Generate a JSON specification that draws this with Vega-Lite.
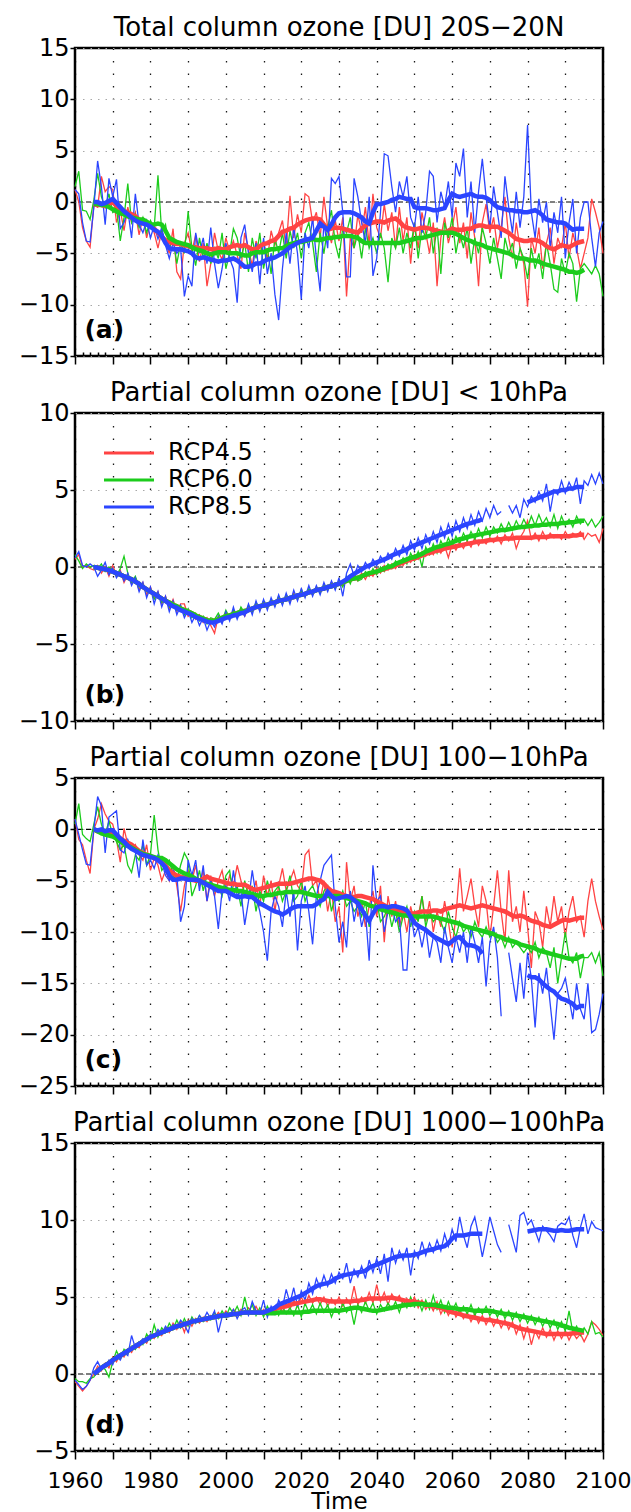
{
"$schema": "https://vega.github.io/schema/vega-lite/v6.json",
"padding": {"left": 16, "top": 13, "right": 0, "bottom": 0},
"spacing": 8,
"resolve": {"scale": {"color": "independent"}, "legend": {"color": "independent"}},
"config": {
 "view": {"stroke": "black", "strokeWidth": 2.5},
 "font": "DejaVu Sans",
 "axis": {"labelFont": "DejaVu Sans", "labelFontSize": 22, "labelColor": "black", "titleFont": "DejaVu Sans", "titleFontSize": 23, "titleFontWeight": "normal", "titleColor": "black"},
 "axisY": {"labelFontSize": 24},
 "title": {"font": "DejaVu Sans", "fontSize": 26, "fontWeight": "normal", "color": "black", "anchor": "middle", "offset": -5, "baseline": "alphabetic", "frame": "group"}
},
"datasets": {
"pa": [
{"t":1960,"r":1.2,"g":1.5,"b":1.2},{"t":1961,"r":0.0,"g":3.0,"b":0.8},{"t":1962,"r":-2.5,"g":-0.8,"b":-2.0},{"t":1963,"r":-3.8,"g":-0.9,"b":-3.8},{"t":1964,"r":-4.4,"g":-1.7,"b":-3.9},
{"t":1965,"r":-0.3,"g":0.2,"b":-0.5,"R":-0.2,"G":-0.2,"B":0.0},
{"t":1966,"r":-0.5,"g":2.8,"b":4.0,"R":-0.3,"G":-0.2,"B":0.0},
{"t":1967,"r":2.5,"g":0.5,"b":1.5,"R":-0.3,"G":-0.3,"B":-0.2},
{"t":1968,"r":1.0,"g":-0.5,"b":-2.2,"R":-0.4,"G":-0.3,"B":-0.1},
{"t":1969,"r":1.5,"g":0.8,"b":2.3,"R":-0.2,"G":-0.5,"B":0.1},
{"t":1970,"r":1.2,"g":-1.0,"b":0.5,"R":0.0,"G":-0.7,"B":0.3},
{"t":1971,"r":-2.0,"g":-0.5,"b":2.2,"R":-0.4,"G":-0.9,"B":-0.1},
{"t":1972,"r":-0.8,"g":-3.8,"b":-2.6,"R":-0.7,"G":-1.1,"B":-0.5},
{"t":1973,"r":-2.8,"g":-1.5,"b":-2.0,"R":-0.9,"G":-1.2,"B":-0.9},
{"t":1974,"r":-0.5,"g":1.8,"b":-0.8,"R":-1.0,"G":-1.4,"B":-1.2},
{"t":1975,"r":-2.0,"g":-2.0,"b":-3.5,"R":-1.2,"G":-1.5,"B":-1.5},
{"t":1976,"r":-1.0,"g":-1.2,"b":0.8,"R":-1.4,"G":-1.6,"B":-1.8},
{"t":1977,"r":-3.2,"g":-2.5,"b":-2.2,"R":-1.7,"G":-1.7,"B":-2.0},
{"t":1978,"r":-1.5,"g":-1.5,"b":-3.0,"R":-1.9,"G":-1.7,"B":-2.1},
{"t":1979,"r":-3.5,"g":-3.0,"b":-1.8,"R":-2.1,"G":-1.9,"B":-2.2},
{"t":1980,"r":-2.0,"g":-1.8,"b":-3.5,"R":-2.3,"G":-2.2,"B":-2.4},
{"t":1981,"r":-3.0,"g":-2.5,"b":-2.3,"R":-2.6,"G":-2.2,"B":-2.7},
{"t":1982,"r":-4.5,"g":2.6,"b":-3.6,"R":-3.0,"G":-2.1,"B":-2.9},
{"t":1983,"r":-2.8,"g":-3.0,"b":-2.5,"R":-3.4,"G":-2.2,"B":-3.3},
{"t":1984,"r":-4.0,"g":-2.2,"b":-4.2,"R":-3.7,"G":-2.8,"B":-4.0},
{"t":1985,"r":-5.0,"g":-4.5,"b":-5.5,"R":-3.9,"G":-3.5,"B":-4.5},
{"t":1986,"r":-2.6,"g":-3.5,"b":-4.0,"R":-4.0,"G":-3.7,"B":-4.6},
{"t":1987,"r":-6.8,"g":-6.0,"b":-5.0,"R":-4.1,"G":-3.9,"B":-4.6},
{"t":1988,"r":-7.5,"g":-4.0,"b":-4.5,"R":-4.1,"G":-4.0,"B":-4.6},
{"t":1989,"r":-4.0,"g":-5.0,"b":-9.2,"R":-4.2,"G":-4.1,"B":-4.7},
{"t":1990,"r":-3.0,"g":-0.9,"b":-7.2,"R":-4.3,"G":-4.2,"B":-4.8},
{"t":1991,"r":-4.8,"g":-4.5,"b":-8.2,"R":-4.4,"G":-4.4,"B":-5.0},
{"t":1992,"r":-3.2,"g":-6.2,"b":-3.0,"R":-4.4,"G":-4.6,"B":-5.4},
{"t":1993,"r":-5.8,"g":-3.5,"b":-5.0,"R":-4.5,"G":-4.7,"B":-5.5},
{"t":1994,"r":-4.0,"g":-5.5,"b":-3.5,"R":-4.5,"G":-4.8,"B":-5.4},
{"t":1995,"r":-8.2,"g":-4.0,"b":-6.0,"R":-4.5,"G":-5.0,"B":-5.5},
{"t":1996,"r":-6.0,"g":-6.0,"b":-2.5,"R":-4.6,"G":-5.1,"B":-5.6},
{"t":1997,"r":-3.0,"g":-4.5,"b":-6.0,"R":-4.6,"G":-5.0,"B":-5.7},
{"t":1998,"r":-4.8,"g":-5.5,"b":-8.4,"R":-4.5,"G":-4.9,"B":-5.8},
{"t":1999,"r":-5.6,"g":-3.0,"b":-6.5,"R":-4.6,"G":-4.9,"B":-5.7},
{"t":2000,"r":-3.5,"g":-6.5,"b":-4.0,"R":-4.6,"G":-4.9,"B":-5.7},
{"t":2001,"r":-4.8,"g":-5.0,"b":-5.5,"R":-4.4,"G":-5.0,"B":-5.6},
{"t":2002,"r":-3.8,"g":-2.6,"b":-6.5,"R":-4.3,"G":-5.0,"B":-5.5},
{"t":2003,"r":-5.2,"g":-3.5,"b":-9.8,"R":-4.2,"G":-5.0,"B":-5.7},
{"t":2004,"r":-6.5,"g":-5.5,"b":-3.5,"R":-4.3,"G":-5.1,"B":-6.0},
{"t":2005,"r":-3.0,"g":-4.0,"b":-2.2,"R":-4.2,"G":-5.2,"B":-6.3},
{"t":2006,"r":-4.6,"g":-6.8,"b":-5.0,"R":-4.4,"G":-5.2,"B":-6.3},
{"t":2007,"r":-6.2,"g":-3.5,"b":-6.8,"R":-4.6,"G":-5.0,"B":-6.2},
{"t":2008,"r":-3.8,"g":-5.5,"b":-4.0,"R":-4.6,"G":-4.9,"B":-6.0},
{"t":2009,"r":-5.0,"g":-3.0,"b":-8.0,"R":-4.3,"G":-4.9,"B":-6.0},
{"t":2010,"r":-3.8,"g":-6.5,"b":-3.5,"R":-4.1,"G":-4.9,"B":-5.8},
{"t":2011,"r":-5.6,"g":-4.5,"b":-7.0,"R":-4.0,"G":-4.7,"B":-5.6},
{"t":2012,"r":-2.8,"g":-7.0,"b":-5.0,"R":-3.8,"G":-4.6,"B":-5.5},
{"t":2013,"r":-4.2,"g":-3.5,"b":-9.0,"R":-3.7,"G":-4.6,"B":-5.4},
{"t":2014,"r":-3.0,"g":-5.0,"b":-11.5,"R":-3.3,"G":-4.5,"B":-5.2},
{"t":2015,"r":-1.8,"g":-3.0,"b":-6.5,"R":-2.9,"G":-4.5,"B":-5.0},
{"t":2016,"r":-4.5,"g":-5.5,"b":-3.0,"R":-2.8,"G":-4.3,"B":-4.7},
{"t":2017,"r":0.6,"g":-2.8,"b":-6.0,"R":-2.6,"G":-4.1,"B":-4.4},
{"t":2018,"r":-3.5,"g":-4.5,"b":-2.5,"R":-2.5,"G":-4.0,"B":-4.2},
{"t":2019,"r":-1.2,"g":-3.0,"b":-5.0,"R":-2.2,"G":-3.9,"B":-4.0},
{"t":2020,"r":-3.0,"g":-5.5,"b":-9.5,"R":-2.0,"G":-3.9,"B":-3.8},
{"t":2021,"r":0.8,"g":-3.0,"b":-3.0,"R":-1.8,"G":-3.8,"B":-3.7},
{"t":2022,"r":0.5,"g":-2.0,"b":-4.5,"R":-1.7,"G":-3.7,"B":-3.6},
{"t":2023,"r":-2.0,"g":-4.0,"b":-1.5,"R":-1.6,"G":-3.6,"B":-3.5},
{"t":2024,"r":-1.0,"g":-6.8,"b":-5.5,"R":-1.6,"G":-3.7,"B":-2.8},
{"t":2025,"r":-3.5,"g":-3.0,"b":-8.7,"R":-1.7,"G":-3.7,"B":-2.1},
{"t":2026,"r":0.5,"g":-5.0,"b":-2.0,"R":-2.2,"G":-3.6,"B":-2.4},
{"t":2027,"r":-2.5,"g":-2.5,"b":-4.5,"R":-2.7,"G":-3.5,"B":-2.7},
{"t":2028,"r":-4.0,"g":-0.8,"b":2.3,"R":-2.6,"G":-3.5,"B":-2.2},
{"t":2029,"r":-1.8,"g":-4.0,"b":1.8,"R":-2.5,"G":-3.4,"B":-1.5},
{"t":2030,"r":-3.8,"g":-5.5,"b":2.5,"R":-2.5,"G":-3.4,"B":-1.1},
{"t":2031,"r":-1.5,"g":-2.5,"b":-1.0,"R":-2.6,"G":-3.3,"B":-1.0},
{"t":2032,"r":-9.2,"g":-3.0,"b":-7.3,"R":-2.7,"G":-3.3,"B":-1.0},
{"t":2033,"r":-3.5,"g":-1.5,"b":-7.3,"R":-2.8,"G":-3.3,"B":-1.0},
{"t":2034,"r":-4.5,"g":-4.5,"b":2.3,"R":-2.9,"G":-3.4,"B":-1.1},
{"t":2035,"r":-1.2,"g":-3.0,"b":0.5,"R":-3.0,"G":-3.5,"B":-1.3},
{"t":2036,"r":-3.0,"g":-5.5,"b":-2.0,"R":-2.6,"G":-3.8,"B":-1.5},
{"t":2037,"r":-0.5,"g":-2.5,"b":-4.0,"R":-2.3,"G":-4.0,"B":-1.9},
{"t":2038,"r":-4.2,"g":-4.5,"b":0.5,"R":-2.1,"G":-4.0,"B":-2.1},
{"t":2039,"r":0.8,"g":-3.5,"b":-7.2,"R":-2.0,"G":-4.0,"B":-1.0},
{"t":2040,"r":-2.5,"g":-5.0,"b":-5.5,"R":-1.9,"G":-4.0,"B":-0.2},
{"t":2041,"r":-3.5,"g":-3.0,"b":-1.0,"R":-1.9,"G":-4.0,"B":-0.2},
{"t":2042,"r":-0.2,"g":-4.5,"b":4.7,"R":-2.0,"G":-4.0,"B":-0.1},
{"t":2043,"r":-2.8,"g":-7.8,"b":4.5,"R":-1.8,"G":-4.0,"B":0.0},
{"t":2044,"r":-1.0,"g":-3.5,"b":1.5,"R":-1.7,"G":-4.0,"B":0.2},
{"t":2045,"r":-4.5,"g":-4.5,"b":-1.0,"R":-1.6,"G":-4.0,"B":0.3},
{"t":2046,"r":-0.5,"g":-2.5,"b":2.0,"R":-1.9,"G":-4.0,"B":0.5},
{"t":2047,"r":-3.8,"g":-5.0,"b":0.5,"R":-2.3,"G":-3.9,"B":0.4},
{"t":2048,"r":-1.5,"g":-3.0,"b":2.5,"R":-2.5,"G":-3.8,"B":0.3},
{"t":2049,"r":-6.0,"g":-4.5,"b":-1.5,"R":-2.6,"G":-3.7,"B":0.3},
{"t":2050,"r":-2.0,"g":-2.0,"b":-2.5,"R":-2.7,"G":-3.6,"B":-0.5},
{"t":2051,"r":-4.5,"g":-5.5,"b":0.5,"R":-2.6,"G":-3.5,"B":-0.6},
{"t":2052,"r":-1.0,"g":-2.5,"b":-3.0,"R":-2.5,"G":-3.5,"B":-0.6},
{"t":2053,"r":-3.0,"g":-3.5,"b":-1.0,"R":-2.5,"G":-3.4,"B":-0.6},
{"t":2054,"r":-5.0,"g":-1.5,"b":3.0,"R":-2.6,"G":-3.3,"B":-0.7},
{"t":2055,"r":-2.0,"g":-5.0,"b":2.5,"R":-2.7,"G":-3.2,"B":-0.8},
{"t":2056,"r":-8.2,"g":-2.5,"b":-2.0,"R":-2.8,"G":-3.1,"B":-0.8},
{"t":2057,"r":-3.5,"g":-7.0,"b":1.0,"R":-2.9,"G":-3.0,"B":-0.7},
{"t":2058,"r":-1.5,"g":-2.0,"b":-0.5,"R":-3.0,"G":-3.0,"B":-0.6},
{"t":2059,"r":-4.0,"g":-3.5,"b":2.0,"R":-2.8,"G":-3.0,"B":0.2},
{"t":2060,"r":-2.5,"g":-1.5,"b":-1.5,"R":-2.6,"G":-3.0,"B":0.8},
{"t":2061,"r":-0.5,"g":-5.0,"b":3.8,"R":-2.7,"G":-3.1,"B":0.6},
{"t":2062,"r":-4.0,"g":-3.0,"b":2.5,"R":-2.7,"G":-3.3,"B":0.5},
{"t":2063,"r":-2.0,"g":-4.5,"b":5.2,"R":-2.7,"G":-3.5,"B":0.6},
{"t":2064,"r":-5.5,"g":-2.5,"b":-1.5,"R":-2.6,"G":-3.7,"B":0.7},
{"t":2065,"r":-1.0,"g":-6.0,"b":2.0,"R":-2.6,"G":-3.8,"B":0.8},
{"t":2066,"r":-3.5,"g":-3.5,"b":-3.0,"R":-2.4,"G":-4.0,"B":0.6},
{"t":2067,"r":-8.2,"g":-5.0,"b":1.0,"R":-2.3,"G":-4.1,"B":0.5},
{"t":2068,"r":-2.0,"g":-2.5,"b":4.2,"R":-2.3,"G":-4.2,"B":0.5},
{"t":2069,"r":-0.2,"g":-4.0,"b":0.5,"R":-2.4,"G":-4.4,"B":0.4},
{"t":2070,"r":-3.0,"g":-6.0,"b":-2.5,"R":-2.4,"G":-4.5,"B":0.2},
{"t":2071,"r":-1.5,"g":-3.5,"b":1.5,"R":-2.4,"G":-4.6,"B":-0.2},
{"t":2072,"r":-4.5,"g":-5.5,"b":-1.0,"R":-2.4,"G":-4.7,"B":-0.5},
{"t":2073,"r":-2.5,"g":-7.5,"b":-3.5,"R":-2.6,"G":-4.8,"B":-0.6},
{"t":2074,"r":0.5,"g":-3.5,"b":2.5,"R":-2.8,"G":-4.9,"B":-0.7},
{"t":2075,"r":-3.5,"g":-5.0,"b":-0.5,"R":-3.0,"G":-5.0,"B":-0.8},
{"t":2076,"r":-5.5,"g":-4.0,"b":-3.0,"R":-3.3,"G":-5.2,"B":-0.8},
{"t":2077,"r":-2.0,"g":-6.5,"b":1.0,"R":-3.6,"G":-5.4,"B":-0.9},
{"t":2078,"r":-4.5,"g":-4.5,"b":-2.5,"R":-3.7,"G":-5.5,"B":-0.9},
{"t":2079,"r":-6.0,"g":-5.5,"b":0.5,"R":-3.8,"G":-5.5,"B":-1.0},
{"t":2080,"r":-10.2,"g":-7.5,"b":7.5,"R":-3.8,"G":-5.6,"B":-1.0},
{"t":2081,"r":-3.5,"g":-4.5,"b":-1.0,"R":-3.7,"G":-5.7,"B":-0.9},
{"t":2082,"r":-5.0,"g":-6.5,"b":-3.5,"R":-3.7,"G":-5.7,"B":-0.8},
{"t":2083,"r":-2.5,"g":-5.0,"b":0.3,"R":-3.8,"G":-5.8,"B":-1.0},
{"t":2084,"r":-6.5,"g":-7.5,"b":-2.0,"R":-4.0,"G":-6.0,"B":-1.3},
{"t":2085,"r":-4.0,"g":-4.0,"b":0.0,"R":-4.3,"G":-6.1,"B":-1.7},
{"t":2086,"r":-2.5,"g":-6.0,"b":-4.5,"R":-4.5,"G":-6.2,"B":-1.8},
{"t":2087,"r":-6.0,"g":-8.5,"b":-1.0,"R":-4.6,"G":-6.3,"B":-1.9},
{"t":2088,"r":-3.5,"g":-8.8,"b":-3.0,"R":-4.4,"G":-6.4,"B":-2.0},
{"t":2089,"r":-4.5,"g":-5.5,"b":0.5,"R":-4.2,"G":-6.5,"B":-2.0},
{"t":2090,"r":-2.0,"g":-7.0,"b":-5.5,"R":-4.3,"G":-6.6,"B":-2.1},
{"t":2091,"r":-5.5,"g":-5.0,"b":-2.0,"R":-4.4,"G":-6.8,"B":-2.4},
{"t":2092,"r":-3.0,"g":-6.0,"b":0.3,"R":-4.2,"G":-6.8,"B":-2.7},
{"t":2093,"r":-4.5,"g":-9.7,"b":-5.0,"R":-4.0,"G":-6.9,"B":-2.6},
{"t":2094,"r":-6.5,"g":-6.5,"b":-1.5,"R":-3.9,"G":-6.8,"B":-2.6},
{"t":2095,"r":-5.0,"g":-6.0,"b":0.0,"R":-3.8,"G":-6.6,"B":-2.6},
{"t":2096,"r":-3.5,"g":-6.5,"b":0.0},{"t":2097,"r":0.3,"g":-7.0,"b":-3.5},{"t":2098,"r":-1.0,"g":-6.2,"b":-6.3},{"t":2099,"r":-2.5,"g":-7.0,"b":-3.0},{"t":2100,"r":-5.0,"g":-9.2,"b":-1.9}
],
"pb": [
{"t":1960,"r":0.5,"g":0.8,"b":0.6},{"t":1961,"r":0.8,"g":0.4,"b":1.0},{"t":1962,"r":0.0,"g":-0.1,"b":0.1},{"t":1963,"r":0.1,"g":0.2,"b":0.0},{"t":1964,"r":-0.1,"g":0.0,"b":0.2},
{"t":1965,"r":-0.2,"g":0.1,"b":0.0,"R":0.0,"G":0.0,"B":0.0},
{"t":1966,"r":0.1,"g":-0.1,"b":-0.6,"R":-0.05,"G":-0.05,"B":-0.05},
{"t":1967,"r":-0.4,"g":0.2,"b":-0.2,"R":-0.1,"G":-0.1,"B":-0.1},
{"t":1968,"r":0.0,"g":-0.3,"b":0.3,"R":-0.15,"G":-0.15,"B":-0.15},
{"t":1969,"r":-0.6,"g":0.0,"b":-0.5,"R":-0.2,"G":-0.2,"B":-0.2},
{"t":1970,"r":0.1,"g":-0.2,"b":-0.1,"R":-0.3,"G":-0.3,"B":-0.3},
{"t":1971,"r":-0.5,"g":-0.6,"b":-0.7,"R":-0.4,"G":-0.4,"B":-0.4},
{"t":1972,"r":-0.2,"g":-0.1,"b":-0.3,"R":-0.5,"G":-0.5,"B":-0.5},
{"t":1973,"r":-1.0,"g":0.7,"b":-0.9,"R":-0.6,"G":-0.6,"B":-0.6},
{"t":1974,"r":-0.5,"g":-0.4,"b":-0.4,"R":-0.7,"G":-0.7,"B":-0.7},
{"t":1975,"r":-1.1,"g":-1.0,"b":-1.2,"R":-0.8,"G":-0.8,"B":-0.8},
{"t":1976,"r":-0.7,"g":-0.6,"b":-0.7,"R":-0.95,"G":-0.95,"B":-0.95},
{"t":1977,"r":-1.5,"g":-1.3,"b":-1.6,"R":-1.1,"G":-1.1,"B":-1.1},
{"t":1978,"r":-1.0,"g":-1.2,"b":-1.0,"R":-1.3,"G":-1.3,"B":-1.3},
{"t":1979,"r":-1.8,"g":-1.6,"b":-2.0,"R":-1.45,"G":-1.45,"B":-1.45},
{"t":1980,"r":-1.3,"g":-1.4,"b":-1.3,"R":-1.6,"G":-1.6,"B":-1.6},
{"t":1981,"r":-2.0,"g":-2.1,"b":-2.4,"R":-1.75,"G":-1.75,"B":-1.75},
{"t":1982,"r":-1.6,"g":-1.7,"b":-1.6,"R":-1.9,"G":-1.9,"B":-1.9},
{"t":1983,"r":-2.4,"g":-2.3,"b":-2.6,"R":-2.05,"G":-2.05,"B":-2.05},
{"t":1984,"r":-1.9,"g":-2.0,"b":-1.9,"R":-2.2,"G":-2.2,"B":-2.2},
{"t":1985,"r":-2.7,"g":-2.6,"b":-2.9,"R":-2.3,"G":-2.3,"B":-2.4},
{"t":1986,"r":-2.1,"g":-2.3,"b":-2.2,"R":-2.45,"G":-2.45,"B":-2.55},
{"t":1987,"r":-2.9,"g":-2.8,"b":-3.1,"R":-2.55,"G":-2.55,"B":-2.65},
{"t":1988,"r":-2.4,"g":-2.5,"b":-2.5,"R":-2.7,"G":-2.7,"B":-2.8},
{"t":1989,"r":-2.4,"g":-3.1,"b":-3.3,"R":-2.8,"G":-2.8,"B":-2.9},
{"t":1990,"r":-3.2,"g":-2.7,"b":-2.8,"R":-2.9,"G":-2.9,"B":-3.0},
{"t":1991,"r":-3.0,"g":-3.3,"b":-3.6,"R":-3.0,"G":-3.0,"B":-3.1},
{"t":1992,"r":-3.4,"g":-3.0,"b":-3.1,"R":-3.15,"G":-3.15,"B":-3.25},
{"t":1993,"r":-3.1,"g":-3.5,"b":-3.8,"R":-3.25,"G":-3.25,"B":-3.35},
{"t":1994,"r":-3.6,"g":-3.2,"b":-3.3,"R":-3.35,"G":-3.35,"B":-3.45},
{"t":1995,"r":-3.3,"g":-3.7,"b":-4.1,"R":-3.45,"G":-3.45,"B":-3.55},
{"t":1996,"r":-3.8,"g":-3.3,"b":-3.5,"R":-3.5,"G":-3.5,"B":-3.6},
{"t":1997,"r":-4.3,"g":-3.4,"b":-3.9,"R":-3.5,"G":-3.5,"B":-3.6},
{"t":1998,"r":-3.2,"g":-3.0,"b":-3.2,"R":-3.4,"G":-3.4,"B":-3.5},
{"t":1999,"r":-3.6,"g":-3.5,"b":-3.7,"R":-3.3,"G":-3.3,"B":-3.4},
{"t":2000,"r":-3.0,"g":-2.8,"b":-2.9,"R":-3.2,"G":-3.2,"B":-3.3},
{"t":2001,"r":-3.4,"g":-3.3,"b":-3.5,"R":-3.15,"G":-3.15,"B":-3.25},
{"t":2002,"r":-2.9,"g":-2.8,"b":-2.6,"R":-3.05,"G":-3.05,"B":-3.15},
{"t":2003,"r":-3.2,"g":-3.3,"b":-3.4,"R":-3.0,"G":-3.0,"B":-3.1},
{"t":2004,"r":-2.7,"g":-2.6,"b":-2.8,"R":-2.9,"G":-2.9,"B":-3.0},
{"t":2005,"r":-3.2,"g":-3.0,"b":-3.2,"R":-2.85,"G":-2.85,"B":-2.95},
{"t":2006,"r":-2.6,"g":-2.5,"b":-2.4,"R":-2.8,"G":-2.8,"B":-2.8},
{"t":2007,"r":-2.9,"g":-2.9,"b":-3.1,"R":-2.7,"G":-2.7,"B":-2.7},
{"t":2008,"r":-2.4,"g":-2.3,"b":-2.2,"R":-2.6,"G":-2.6,"B":-2.6},
{"t":2009,"r":-2.8,"g":-2.7,"b":-2.9,"R":-2.55,"G":-2.55,"B":-2.55},
{"t":2010,"r":-2.3,"g":-2.2,"b":-2.1,"R":-2.5,"G":-2.5,"B":-2.5},
{"t":2011,"r":-2.6,"g":-2.6,"b":-2.8,"R":-2.45,"G":-2.45,"B":-2.45},
{"t":2012,"r":-2.2,"g":-2.1,"b":-2.0,"R":-2.35,"G":-2.35,"B":-2.35},
{"t":2013,"r":-2.5,"g":-2.5,"b":-2.6,"R":-2.3,"G":-2.3,"B":-2.3},
{"t":2014,"r":-2.0,"g":-1.9,"b":-1.8,"R":-2.2,"G":-2.2,"B":-2.2},
{"t":2015,"r":-2.3,"g":-2.4,"b":-2.5,"R":-2.15,"G":-2.15,"B":-2.15},
{"t":2016,"r":-1.9,"g":-1.8,"b":-1.7,"R":-2.1,"G":-2.1,"B":-2.1},
{"t":2017,"r":-2.3,"g":-2.2,"b":-2.4,"R":-2.0,"G":-2.0,"B":-2.0},
{"t":2018,"r":-1.7,"g":-1.8,"b":-1.5,"R":-1.95,"G":-1.95,"B":-1.95},
{"t":2019,"r":-2.0,"g":-2.1,"b":-2.2,"R":-1.85,"G":-1.85,"B":-1.85},
{"t":2020,"r":-1.6,"g":-1.5,"b":-1.4,"R":-1.8,"G":-1.8,"B":-1.8},
{"t":2021,"r":-1.9,"g":-1.9,"b":-2.0,"R":-1.75,"G":-1.75,"B":-1.75},
{"t":2022,"r":-1.5,"g":-1.4,"b":-1.2,"R":-1.65,"G":-1.65,"B":-1.65},
{"t":2023,"r":-1.8,"g":-1.8,"b":-1.9,"R":-1.6,"G":-1.6,"B":-1.6},
{"t":2024,"r":-1.3,"g":-1.3,"b":-1.2,"R":-1.5,"G":-1.5,"B":-1.5},
{"t":2025,"r":-1.6,"g":-1.7,"b":-1.8,"R":-1.45,"G":-1.45,"B":-1.45},
{"t":2026,"r":-1.2,"g":-1.2,"b":-1.0,"R":-1.4,"G":-1.4,"B":-1.4},
{"t":2027,"r":-1.4,"g":-1.5,"b":-1.6,"R":-1.3,"G":-1.3,"B":-1.3},
{"t":2028,"r":-1.0,"g":-1.1,"b":-0.9,"R":-1.25,"G":-1.25,"B":-1.25},
{"t":2029,"r":-1.3,"g":-1.4,"b":-1.5,"R":-1.15,"G":-1.15,"B":-1.15},
{"t":2030,"r":-0.9,"g":-0.9,"b":-0.7,"R":-1.1,"G":-1.1,"B":-1.1},
{"t":2031,"r":-1.2,"g":-1.3,"b":-1.9,"R":-1.0,"G":-1.0,"B":-0.95},
{"t":2032,"r":-0.7,"g":-0.6,"b":-0.4,"R":-0.9,"G":-0.9,"B":-0.8},
{"t":2033,"r":-1.0,"g":-1.1,"b":0.2,"R":-0.8,"G":-0.8,"B":-0.6},
{"t":2034,"r":-0.5,"g":-0.4,"b":-0.6,"R":-0.75,"G":-0.75,"B":-0.45},
{"t":2035,"r":-0.9,"g":-0.9,"b":0.1,"R":-0.7,"G":-0.7,"B":-0.3},
{"t":2036,"r":-0.4,"g":-0.8,"b":-0.3,"R":-0.6,"G":-0.6,"B":-0.15},
{"t":2037,"r":-0.8,"g":-0.3,"b":0.3,"R":-0.5,"G":-0.5,"B":0.0},
{"t":2038,"r":-0.3,"g":-0.6,"b":-0.1,"R":-0.45,"G":-0.4,"B":0.1},
{"t":2039,"r":-0.6,"g":-0.1,"b":0.5,"R":-0.4,"G":-0.35,"B":0.2},
{"t":2040,"r":-0.1,"g":-0.5,"b":0.1,"R":-0.3,"G":-0.3,"B":0.3},
{"t":2041,"r":-0.4,"g":0.0,"b":0.7,"R":-0.2,"G":-0.2,"B":0.4},
{"t":2042,"r":0.1,"g":-0.3,"b":0.3,"R":-0.15,"G":-0.1,"B":0.5},
{"t":2043,"r":-0.2,"g":0.2,"b":0.9,"R":-0.05,"G":0.0,"B":0.6},
{"t":2044,"r":0.2,"g":-0.1,"b":0.5,"R":0.0,"G":0.05,"B":0.75},
{"t":2045,"r":-0.1,"g":0.4,"b":1.2,"R":0.1,"G":0.2,"B":0.85},
{"t":2046,"r":0.4,"g":0.1,"b":0.7,"R":0.2,"G":0.3,"B":0.95},
{"t":2047,"r":0.1,"g":0.6,"b":1.4,"R":0.3,"G":0.4,"B":1.05},
{"t":2048,"r":0.6,"g":0.2,"b":0.8,"R":0.4,"G":0.5,"B":1.15},
{"t":2049,"r":0.3,"g":0.9,"b":1.7,"R":0.5,"G":0.6,"B":1.3},
{"t":2050,"r":0.8,"g":0.4,"b":1.1,"R":0.55,"G":0.65,"B":1.4},
{"t":2051,"r":0.5,"g":1.0,"b":1.9,"R":0.65,"G":0.75,"B":1.5},
{"t":2052,"r":1.0,"g":0.0,"b":1.2,"R":0.75,"G":0.85,"B":1.6},
{"t":2053,"r":0.7,"g":1.3,"b":2.1,"R":0.85,"G":1.0,"B":1.7},
{"t":2054,"r":1.2,"g":0.8,"b":1.5,"R":0.9,"G":1.1,"B":1.8},
{"t":2055,"r":0.8,"g":1.5,"b":2.3,"R":1.0,"G":1.2,"B":1.9},
{"t":2056,"r":1.3,"g":0.9,"b":1.6,"R":1.05,"G":1.3,"B":2.0},
{"t":2057,"r":0.9,"g":1.7,"b":2.6,"R":1.1,"G":1.35,"B":2.1},
{"t":2058,"r":1.4,"g":1.2,"b":1.9,"R":1.2,"G":1.45,"B":2.2},
{"t":2059,"r":0.6,"g":1.9,"b":2.8,"R":1.25,"G":1.5,"B":2.3},
{"t":2060,"r":1.5,"g":1.3,"b":2.0,"R":1.3,"G":1.6,"B":2.4},
{"t":2061,"r":1.1,"g":2.0,"b":3.0,"R":1.35,"G":1.7,"B":2.5},
{"t":2062,"r":1.6,"g":1.5,"b":2.3,"R":1.4,"G":1.8,"B":2.6},
{"t":2063,"r":1.2,"g":2.2,"b":3.2,"R":1.45,"G":1.85,"B":2.7},
{"t":2064,"r":1.7,"g":1.7,"b":2.5,"R":1.5,"G":1.95,"B":2.8},
{"t":2065,"r":1.3,"g":2.3,"b":3.4,"R":1.55,"G":2.0,"B":2.85},
{"t":2066,"r":1.9,"g":1.8,"b":2.7,"R":1.6,"G":2.05,"B":2.95},
{"t":2067,"r":1.4,"g":2.5,"b":3.6,"R":1.65,"G":2.1,"B":3.0},
{"t":2068,"r":1.8,"g":1.9,"b":3.0,"R":1.65,"G":2.15,"B":3.1},
{"t":2069,"r":1.5,"g":2.6,"b":3.8,"R":1.7,"G":2.2,"B":null},
{"t":2070,"r":1.9,"g":2.0,"b":3.2,"R":1.75,"G":2.25,"B":null},
{"t":2071,"r":1.6,"g":2.6,"b":4.0,"R":1.75,"G":2.3,"B":null},
{"t":2072,"r":2.0,"g":2.2,"b":3.4,"R":1.8,"G":2.35,"B":null},
{"t":2073,"r":1.5,"g":2.8,"b":3.6,"R":1.8,"G":2.4,"B":null},
{"t":2074,"r":2.1,"g":2.3,"b":null,"R":1.85,"G":2.4,"B":null},
{"t":2075,"r":1.7,"g":2.9,"b":4.0,"R":1.85,"G":2.45,"B":null},
{"t":2076,"r":2.2,"g":2.4,"b":3.5,"R":1.85,"G":2.5,"B":null},
{"t":2077,"r":1.2,"g":3.0,"b":4.0,"R":1.9,"G":2.55,"B":null},
{"t":2078,"r":1.9,"g":2.5,"b":3.2,"R":1.9,"G":2.6,"B":null},
{"t":2079,"r":2.3,"g":3.1,"b":4.4,"R":1.9,"G":2.6,"B":null},
{"t":2080,"r":3.0,"g":2.6,"b":3.9,"R":1.9,"G":2.65,"B":4.2},
{"t":2081,"r":1.8,"g":3.3,"b":4.6,"R":1.9,"G":2.65,"B":4.3},
{"t":2082,"r":2.2,"g":2.7,"b":4.2,"R":1.95,"G":2.7,"B":4.4},
{"t":2083,"r":1.7,"g":3.4,"b":4.9,"R":1.95,"G":2.7,"B":4.5},
{"t":2084,"r":2.3,"g":2.8,"b":4.3,"R":1.95,"G":2.75,"B":4.6},
{"t":2085,"r":1.8,"g":3.2,"b":5.4,"R":1.95,"G":2.75,"B":4.7},
{"t":2086,"r":2.2,"g":2.6,"b":3.6,"R":2.0,"G":2.8,"B":4.8},
{"t":2087,"r":1.9,"g":3.4,"b":5.0,"R":2.0,"G":2.8,"B":4.9},
{"t":2088,"r":2.1,"g":2.5,"b":4.7,"R":2.0,"G":2.8,"B":4.9},
{"t":2089,"r":1.8,"g":3.3,"b":5.6,"R":2.0,"G":2.85,"B":5.0},
{"t":2090,"r":2.3,"g":2.7,"b":4.8,"R":2.0,"G":2.85,"B":5.0},
{"t":2091,"r":1.9,"g":3.1,"b":5.5,"R":2.0,"G":2.9,"B":5.1},
{"t":2092,"r":2.2,"g":2.6,"b":5.0,"R":2.05,"G":2.9,"B":5.1},
{"t":2093,"r":2.0,"g":3.3,"b":5.8,"R":2.05,"G":2.95,"B":5.2},
{"t":2094,"r":2.3,"g":2.8,"b":4.1,"R":2.1,"G":3.0,"B":5.2},
{"t":2095,"r":1.8,"g":3.1,"b":5.6,"R":2.1,"G":3.0,"B":5.2},
{"t":2096,"r":2.2,"g":2.7,"b":5.3},{"t":2097,"r":2.0,"g":3.1,"b":6.0},{"t":2098,"r":2.1,"g":2.6,"b":5.4},{"t":2099,"r":1.6,"g":2.9,"b":6.1},{"t":2100,"r":2.5,"g":3.3,"b":5.4}
],
"pc": [
{"t":1960,"r":1.0,"g":0.5,"b":1.0},{"t":1961,"r":-1.0,"g":2.5,"b":-0.5},{"t":1962,"r":-1.5,"g":-0.5,"b":-2.0},{"t":1963,"r":-3.0,"g":-0.9,"b":-3.4},{"t":1964,"r":-4.3,"g":-1.2,"b":-3.5},
{"t":1965,"r":0.0,"g":0.5,"b":0.0,"R":0.0,"G":0.0,"B":0.0},
{"t":1966,"r":1.0,"g":2.2,"b":3.2,"R":-0.2,"G":-0.2,"B":-0.1},
{"t":1967,"r":2.5,"g":0.5,"b":2.3,"R":-0.3,"G":-0.4,"B":0.0},
{"t":1968,"r":1.5,"g":-0.5,"b":-2.3,"R":-0.4,"G":-0.5,"B":-0.2},
{"t":1969,"r":0.8,"g":0.8,"b":1.2,"R":-0.3,"G":-0.6,"B":-0.1},
{"t":1970,"r":0.5,"g":-0.5,"b":1.5,"R":-0.3,"G":-0.7,"B":-0.1},
{"t":1971,"r":-1.0,"g":-1.2,"b":1.8,"R":-0.6,"G":-0.9,"B":-0.5},
{"t":1972,"r":-3.2,"g":-2.0,"b":-2.0,"R":-0.9,"G":-1.2,"B":-0.9},
{"t":1973,"r":0.1,"g":-1.5,"b":-2.3,"R":-1.1,"G":-1.4,"B":-1.2},
{"t":1974,"r":-1.5,"g":-3.5,"b":-1.0,"R":-1.3,"G":-1.6,"B":-1.6},
{"t":1975,"r":-2.0,"g":-4.2,"b":-2.0,"R":-1.5,"G":-1.8,"B":-1.9},
{"t":1976,"r":-1.5,"g":-2.5,"b":-2.2,"R":-1.8,"G":-2.0,"B":-2.1},
{"t":1977,"r":-2.5,"g":-3.0,"b":-4.7,"R":-2.1,"G":-2.2,"B":-2.3},
{"t":1978,"r":-3.0,"g":-1.5,"b":-1.0,"R":-2.3,"G":-2.4,"B":-2.5},
{"t":1979,"r":-1.5,"g":-3.5,"b":-3.5,"R":-2.5,"G":-2.5,"B":-2.6},
{"t":1980,"r":-4.0,"g":-2.5,"b":-3.0,"R":-2.6,"G":-2.6,"B":-2.7},
{"t":1981,"r":-2.8,"g":1.4,"b":-3.8,"R":-2.8,"G":-2.7,"B":-2.8},
{"t":1982,"r":-3.5,"g":-2.0,"b":-2.5,"R":-2.9,"G":-2.8,"B":-3.0},
{"t":1983,"r":-5.0,"g":-4.0,"b":-3.2,"R":-3.0,"G":-2.8,"B":-3.3},
{"t":1984,"r":-4.0,"g":-3.5,"b":-4.5,"R":-3.5,"G":-3.0,"B":-3.7},
{"t":1985,"r":-5.0,"g":-3.0,"b":-5.0,"R":-4.0,"G":-3.3,"B":-4.5},
{"t":1986,"r":-3.5,"g":-4.5,"b":-4.0,"R":-4.3,"G":-3.6,"B":-4.9},
{"t":1987,"r":-5.5,"g":-5.0,"b":-4.5,"R":-4.5,"G":-3.9,"B":-4.9},
{"t":1988,"r":-8.0,"g":-3.5,"b":-9.0,"R":-4.6,"G":-4.1,"B":-4.8},
{"t":1989,"r":-5.5,"g":-2.3,"b":-7.5,"R":-4.7,"G":-4.3,"B":-4.8},
{"t":1990,"r":-4.0,"g":-3.0,"b":-3.0,"R":-4.8,"G":-4.4,"B":-4.9},
{"t":1991,"r":-5.0,"g":-6.5,"b":-4.5,"R":-4.9,"G":-4.6,"B":-4.9},
{"t":1992,"r":-3.5,"g":-5.5,"b":-3.0,"R":-5.0,"G":-4.8,"B":-4.9},
{"t":1993,"r":-5.5,"g":-4.0,"b":-6.0,"R":-5.0,"G":-5.0,"B":-5.0},
{"t":1994,"r":-4.0,"g":-6.0,"b":-3.5,"R":-4.8,"G":-5.2,"B":-5.2},
{"t":1995,"r":-7.0,"g":-4.5,"b":-7.0,"R":-4.6,"G":-5.3,"B":-5.4},
{"t":1996,"r":-4.5,"g":-5.0,"b":-5.0,"R":-4.8,"G":-5.4,"B":-5.6},
{"t":1997,"r":-6.5,"g":-6.0,"b":-6.5,"R":-4.9,"G":-5.5,"B":-5.8},
{"t":1998,"r":-5.0,"g":-5.5,"b":-9.7,"R":-5.0,"G":-5.6,"B":-6.0},
{"t":1999,"r":-4.0,"g":-6.5,"b":-6.0,"R":-5.1,"G":-5.7,"B":-6.0},
{"t":2000,"r":-6.0,"g":-4.5,"b":-5.5,"R":-5.2,"G":-5.8,"B":-6.0},
{"t":2001,"r":-4.5,"g":-4.0,"b":-7.0,"R":-5.3,"G":-5.9,"B":-6.2},
{"t":2002,"r":-5.5,"g":-6.5,"b":-4.0,"R":-5.3,"G":-5.9,"B":-6.4},
{"t":2003,"r":-3.5,"g":-5.5,"b":-6.5,"R":-5.4,"G":-6.0,"B":-6.6},
{"t":2004,"r":-5.0,"g":-7.5,"b":-6.0,"R":-5.4,"G":-6.0,"B":-6.6},
{"t":2005,"r":-6.5,"g":-5.0,"b":-9.3,"R":-5.4,"G":-6.1,"B":-6.5},
{"t":2006,"r":-5.5,"g":-6.5,"b":-7.0,"R":-5.6,"G":-6.2,"B":-6.6},
{"t":2007,"r":-6.5,"g":-5.5,"b":-4.0,"R":-5.8,"G":-6.3,"B":-6.6},
{"t":2008,"r":-5.0,"g":-8.0,"b":-6.5,"R":-5.9,"G":-6.4,"B":-6.9},
{"t":2009,"r":-7.5,"g":-6.0,"b":-8.0,"R":-5.8,"G":-6.5,"B":-7.2},
{"t":2010,"r":-4.5,"g":-7.0,"b":-10.0,"R":-5.7,"G":-6.5,"B":-7.4},
{"t":2011,"r":-6.5,"g":-5.0,"b":-12.8,"R":-5.6,"G":-6.4,"B":-7.6},
{"t":2012,"r":-5.0,"g":-6.5,"b":-8.0,"R":-5.5,"G":-6.4,"B":-7.8},
{"t":2013,"r":-8.0,"g":-6.0,"b":-6.5,"R":-5.4,"G":-6.3,"B":-8.0},
{"t":2014,"r":-5.5,"g":-5.5,"b":-7.5,"R":-5.3,"G":-6.2,"B":-8.1},
{"t":2015,"r":-3.8,"g":-7.0,"b":-9.5,"R":-5.3,"G":-6.2,"B":-8.3},
{"t":2016,"r":-6.0,"g":-6.0,"b":-6.0,"R":-5.3,"G":-6.1,"B":-8.1},
{"t":2017,"r":-5.0,"g":-4.5,"b":-8.5,"R":-5.3,"G":-6.1,"B":-7.8},
{"t":2018,"r":-4.0,"g":-7.0,"b":-6.0,"R":-5.2,"G":-6.1,"B":-7.6},
{"t":2019,"r":-5.5,"g":-6.5,"b":-11.8,"R":-5.1,"G":-6.1,"B":-7.5},
{"t":2020,"r":-6.0,"g":-5.0,"b":-7.0,"R":-5.0,"G":-6.1,"B":-7.5},
{"t":2021,"r":-2.5,"g":-7.0,"b":-5.5,"R":-4.9,"G":-6.2,"B":-7.5},
{"t":2022,"r":-2.0,"g":-6.0,"b":-8.0,"R":-4.8,"G":-6.3,"B":-7.5},
{"t":2023,"r":-5.5,"g":-5.5,"b":-11.2,"R":-4.8,"G":-6.4,"B":-7.5},
{"t":2024,"r":-5.0,"g":-6.5,"b":-6.5,"R":-4.9,"G":-6.5,"B":-7.3},
{"t":2025,"r":-7.0,"g":-7.5,"b":-5.0,"R":-5.0,"G":-6.5,"B":-7.0},
{"t":2026,"r":-5.0,"g":-6.0,"b":-3.5,"R":-5.3,"G":-6.5,"B":-6.8},
{"t":2027,"r":-8.0,"g":-5.5,"b":-3.0,"R":-5.7,"G":-6.5,"B":-6.1},
{"t":2028,"r":-6.0,"g":-8.0,"b":-2.5,"R":-6.0,"G":-6.5,"B":-6.5},
{"t":2029,"r":-9.0,"g":-6.5,"b":-7.5,"R":-6.1,"G":-6.5,"B":-6.8},
{"t":2030,"r":-7.5,"g":-7.0,"b":-11.0,"R":-6.2,"G":-6.5,"B":-6.7},
{"t":2031,"r":-12.0,"g":-6.0,"b":-9.0,"R":-6.4,"G":-6.6,"B":-6.6},
{"t":2032,"r":-3.2,"g":-7.5,"b":-11.5,"R":-6.5,"G":-6.7,"B":-6.5},
{"t":2033,"r":-7.0,"g":-7.0,"b":-6.0,"R":-6.6,"G":-6.8,"B":-6.6},
{"t":2034,"r":-5.5,"g":-8.0,"b":-9.0,"R":-6.6,"G":-6.9,"B":-6.9},
{"t":2035,"r":-8.5,"g":-7.5,"b":-7.0,"R":-6.5,"G":-7.0,"B":-7.2},
{"t":2036,"r":-7.0,"g":-8.5,"b":-9.5,"R":-6.5,"G":-7.1,"B":-7.8},
{"t":2037,"r":-9.5,"g":-7.0,"b":-8.0,"R":-6.6,"G":-7.2,"B":-8.4},
{"t":2038,"r":-7.5,"g":-9.5,"b":-12.8,"R":-6.7,"G":-7.4,"B":-8.9},
{"t":2039,"r":-6.0,"g":-8.0,"b":-3.5,"R":-6.8,"G":-7.5,"B":-8.2},
{"t":2040,"r":-8.5,"g":-7.0,"b":-7.0,"R":-7.0,"G":-7.6,"B":-7.6},
{"t":2041,"r":-5.5,"g":-9.0,"b":-6.5,"R":-7.2,"G":-7.8,"B":-7.5},
{"t":2042,"r":-11.0,"g":-8.5,"b":-10.0,"R":-7.4,"G":-7.9,"B":-7.5},
{"t":2043,"r":-6.5,"g":-7.5,"b":-8.0,"R":-7.6,"G":-8.0,"B":-7.6},
{"t":2044,"r":-8.5,"g":-9.5,"b":-7.5,"R":-7.7,"G":-8.1,"B":-7.5},
{"t":2045,"r":-7.0,"g":-8.0,"b":-9.0,"R":-7.8,"G":-8.2,"B":-7.5},
{"t":2046,"r":-9.5,"g":-10.0,"b":-8.5,"R":-7.9,"G":-8.3,"B":-7.6},
{"t":2047,"r":-8.0,"g":-8.5,"b":-13.7,"R":-8.0,"G":-8.4,"B":-7.7},
{"t":2048,"r":-10.0,"g":-7.5,"b":-13.7,"R":-8.1,"G":-8.4,"B":-7.9},
{"t":2049,"r":-7.5,"g":-9.5,"b":-8.0,"R":-8.2,"G":-8.5,"B":-8.5},
{"t":2050,"r":-9.0,"g":-8.0,"b":-10.5,"R":-8.2,"G":-8.5,"B":-9.1},
{"t":2051,"r":-8.5,"g":-9.0,"b":-9.5,"R":-8.1,"G":-8.5,"B":-9.4},
{"t":2052,"r":-6.5,"g":-6.5,"b":-11.5,"R":-8.0,"G":-8.5,"B":-9.6},
{"t":2053,"r":-9.0,"g":-9.5,"b":-9.5,"R":-8.0,"G":-8.5,"B":-9.8},
{"t":2054,"r":-7.0,"g":-8.0,"b":-12.5,"R":-8.0,"G":-8.5,"B":-10.1},
{"t":2055,"r":-10.0,"g":-9.0,"b":-10.5,"R":-7.9,"G":-8.5,"B":-10.4},
{"t":2056,"r":-8.0,"g":-8.5,"b":-11.0,"R":-7.9,"G":-8.6,"B":-10.6},
{"t":2057,"r":-9.5,"g":-9.0,"b":-13.0,"R":-8.0,"G":-8.7,"B":-10.8},
{"t":2058,"r":-7.0,"g":-10.0,"b":-9.5,"R":-7.8,"G":-8.8,"B":-11.0},
{"t":2059,"r":-9.0,"g":-8.0,"b":-11.5,"R":-7.7,"G":-8.9,"B":-11.2},
{"t":2060,"r":-11.5,"g":-9.5,"b":-13.0,"R":-7.6,"G":-9.0,"B":-10.9},
{"t":2061,"r":-8.5,"g":-10.5,"b":-10.5,"R":-7.5,"G":-9.1,"B":-10.6},
{"t":2062,"r":-3.8,"g":-9.0,"b":-12.0,"R":-7.4,"G":-9.2,"B":-10.5},
{"t":2063,"r":-8.0,"g":-10.0,"b":-10.0,"R":-7.5,"G":-9.4,"B":-10.9},
{"t":2064,"r":-6.5,"g":-9.5,"b":-13.0,"R":-7.6,"G":-9.5,"B":-11.3},
{"t":2065,"r":-4.8,"g":-10.5,"b":-9.5,"R":-7.7,"G":-9.6,"B":-11.3},
{"t":2066,"r":-7.5,"g":-9.0,"b":-11.0,"R":-7.6,"G":-9.7,"B":-11.4},
{"t":2067,"r":-9.5,"g":-10.0,"b":-13.0,"R":-7.5,"G":-9.8,"B":-11.6},
{"t":2068,"r":-5.5,"g":-10.5,"b":-10.5,"R":-7.4,"G":-9.9,"B":-12.1},
{"t":2069,"r":-7.0,"g":-9.5,"b":-15.3,"R":-7.5,"G":-10.0,"B":null},
{"t":2070,"r":-10.5,"g":-10.5,"b":-11.0,"R":-7.6,"G":-10.1,"B":null},
{"t":2071,"r":-7.5,"g":-10.0,"b":-9.5,"R":-7.7,"G":-10.2,"B":null},
{"t":2072,"r":-4.0,"g":-11.0,"b":-12.5,"R":-7.8,"G":-10.4,"B":null},
{"t":2073,"r":-8.0,"g":-10.5,"b":-18.2,"R":-7.9,"G":-10.5,"B":null},
{"t":2074,"r":-11.0,"g":-11.5,"b":null,"R":-8.0,"G":-10.7,"B":null},
{"t":2075,"r":-4.0,"g":-10.5,"b":-12.0,"R":-8.2,"G":-10.8,"B":null},
{"t":2076,"r":-9.0,"g":-11.5,"b":-14.5,"R":-8.4,"G":-10.9,"B":null},
{"t":2077,"r":-7.5,"g":-11.0,"b":-16.8,"R":-8.5,"G":-11.0,"B":null},
{"t":2078,"r":-10.0,"g":-11.5,"b":-13.0,"R":-8.4,"G":-11.2,"B":null},
{"t":2079,"r":-6.0,"g":-12.0,"b":-16.5,"R":-8.5,"G":-11.3,"B":null},
{"t":2080,"r":-9.5,"g":-11.5,"b":-12.0,"R":-8.7,"G":-11.4,"B":-14.2},
{"t":2081,"r":-13.5,"g":-12.0,"b":-14.5,"R":-8.9,"G":-11.5,"B":-14.4},
{"t":2082,"r":-8.0,"g":-11.0,"b":-19.3,"R":-9.0,"G":-11.6,"B":-14.4},
{"t":2083,"r":-9.0,"g":-12.5,"b":-14.0,"R":-9.1,"G":-11.8,"B":-14.6},
{"t":2084,"r":-11.5,"g":-11.5,"b":-16.0,"R":-9.3,"G":-11.9,"B":-15.0},
{"t":2085,"r":-7.5,"g":-12.0,"b":-13.5,"R":-9.4,"G":-12.0,"B":-15.3},
{"t":2086,"r":-9.5,"g":-13.5,"b":-17.0,"R":-9.5,"G":-12.1,"B":-15.6},
{"t":2087,"r":-6.5,"g":-11.5,"b":-20.5,"R":-9.3,"G":-12.2,"B":-15.8},
{"t":2088,"r":-9.0,"g":-15.0,"b":-16.0,"R":-9.1,"G":-12.3,"B":-16.2},
{"t":2089,"r":-7.5,"g":-12.5,"b":-15.5,"R":-8.9,"G":-12.4,"B":-16.5},
{"t":2090,"r":-10.5,"g":-10.0,"b":-14.5,"R":-8.8,"G":-12.5,"B":-16.6},
{"t":2091,"r":-8.0,"g":-12.5,"b":-16.5,"R":-8.9,"G":-12.6,"B":-16.8},
{"t":2092,"r":-6.5,"g":-13.0,"b":-18.5,"R":-8.8,"G":-12.6,"B":-17.0},
{"t":2093,"r":-9.0,"g":-12.0,"b":-15.0,"R":-8.7,"G":-12.6,"B":-17.4},
{"t":2094,"r":-8.5,"g":-14.5,"b":-17.5,"R":-8.6,"G":-12.4,"B":-17.2},
{"t":2095,"r":-10.5,"g":-12.5,"b":-18.5,"R":-8.6,"G":-12.3,"B":-17.2},
{"t":2096,"r":-7.0,"g":-12.5,"b":-15.0},{"t":2097,"r":-4.8,"g":-12.0,"b":-19.8},{"t":2098,"r":-7.0,"g":-13.0,"b":-19.5},{"t":2099,"r":-8.5,"g":-12.0,"b":-18.0},{"t":2100,"r":-9.8,"g":-14.3,"b":-16.0}
],
"pd": [
{"t":1960,"r":-0.5,"g":-0.3,"b":-0.4},{"t":1961,"r":-0.8,"g":-0.5,"b":-0.7},{"t":1962,"r":-1.1,"g":-0.5,"b":-1.0},{"t":1963,"r":-0.8,"g":-0.6,"b":-0.8},{"t":1964,"r":-0.4,"g":-0.3,"b":-0.4},
{"t":1965,"r":0.0,"g":-0.2,"b":0.4,"R":0.0,"G":0.0,"B":0.0},
{"t":1966,"r":0.5,"g":0.2,"b":0.8,"R":0.2,"G":0.2,"B":0.2},
{"t":1967,"r":0.2,"g":0.5,"b":0.3,"R":0.4,"G":0.4,"B":0.4},
{"t":1968,"r":0.7,"g":0.3,"b":0.5,"R":0.55,"G":0.55,"B":0.55},
{"t":1969,"r":0.4,"g":-0.2,"b":0.9,"R":0.7,"G":0.7,"B":0.7},
{"t":1970,"r":1.1,"g":0.8,"b":0.6,"R":0.9,"G":0.9,"B":0.9},
{"t":1971,"r":0.8,"g":1.5,"b":1.2,"R":1.05,"G":1.05,"B":1.05},
{"t":1972,"r":1.3,"g":1.0,"b":0.9,"R":1.2,"G":1.2,"B":1.2},
{"t":1973,"r":1.1,"g":1.6,"b":1.4,"R":1.35,"G":1.35,"B":1.35},
{"t":1974,"r":1.6,"g":1.3,"b":1.2,"R":1.5,"G":1.5,"B":1.5},
{"t":1975,"r":1.4,"g":1.8,"b":2.5,"R":1.65,"G":1.65,"B":1.65},
{"t":1976,"r":1.9,"g":1.6,"b":1.7,"R":1.8,"G":1.8,"B":1.8},
{"t":1977,"r":1.7,"g":2.1,"b":2.0,"R":1.95,"G":1.95,"B":1.95},
{"t":1978,"r":2.2,"g":1.9,"b":2.3,"R":2.1,"G":2.1,"B":2.1},
{"t":1979,"r":2.0,"g":2.6,"b":2.1,"R":2.25,"G":2.25,"B":2.25},
{"t":1980,"r":2.5,"g":2.2,"b":2.6,"R":2.4,"G":2.4,"B":2.4},
{"t":1981,"r":2.3,"g":3.2,"b":2.4,"R":2.5,"G":2.5,"B":2.5},
{"t":1982,"r":2.8,"g":2.4,"b":2.9,"R":2.6,"G":2.6,"B":2.6},
{"t":1983,"r":2.5,"g":3.0,"b":2.6,"R":2.7,"G":2.7,"B":2.7},
{"t":1984,"r":3.0,"g":2.7,"b":3.1,"R":2.8,"G":2.8,"B":2.8},
{"t":1985,"r":2.7,"g":3.3,"b":2.8,"R":2.9,"G":2.9,"B":2.9},
{"t":1986,"r":3.3,"g":2.9,"b":3.2,"R":3.0,"G":3.0,"B":3.0},
{"t":1987,"r":2.9,"g":3.5,"b":3.0,"R":3.1,"G":3.1,"B":3.1},
{"t":1988,"r":3.4,"g":3.0,"b":3.5,"R":3.15,"G":3.15,"B":3.15},
{"t":1989,"r":2.7,"g":3.6,"b":3.2,"R":3.25,"G":3.25,"B":3.25},
{"t":1990,"r":3.5,"g":3.1,"b":2.7,"R":3.3,"G":3.3,"B":3.3},
{"t":1991,"r":3.1,"g":3.7,"b":3.6,"R":3.4,"G":3.4,"B":3.4},
{"t":1992,"r":3.6,"g":3.3,"b":3.3,"R":3.45,"G":3.45,"B":3.45},
{"t":1993,"r":3.3,"g":3.8,"b":3.8,"R":3.5,"G":3.5,"B":3.5},
{"t":1994,"r":3.7,"g":3.4,"b":3.5,"R":3.55,"G":3.55,"B":3.55},
{"t":1995,"r":3.4,"g":3.7,"b":4.0,"R":3.6,"G":3.6,"B":3.6},
{"t":1996,"r":3.8,"g":3.5,"b":3.6,"R":3.65,"G":3.65,"B":3.65},
{"t":1997,"r":3.6,"g":4.0,"b":4.1,"R":3.7,"G":3.7,"B":3.7},
{"t":1998,"r":4.0,"g":3.6,"b":2.7,"R":3.75,"G":3.75,"B":3.75},
{"t":1999,"r":3.7,"g":4.1,"b":3.7,"R":3.8,"G":3.8,"B":3.8},
{"t":2000,"r":4.1,"g":3.7,"b":4.0,"R":3.8,"G":3.8,"B":3.8},
{"t":2001,"r":3.8,"g":4.3,"b":3.8,"R":3.85,"G":3.85,"B":3.85},
{"t":2002,"r":4.2,"g":3.9,"b":4.2,"R":3.9,"G":3.9,"B":3.9},
{"t":2003,"r":3.9,"g":4.4,"b":3.6,"R":3.9,"G":3.9,"B":3.9},
{"t":2004,"r":4.2,"g":3.8,"b":4.1,"R":3.95,"G":3.95,"B":3.95},
{"t":2005,"r":3.9,"g":5.0,"b":4.3,"R":4.0,"G":4.0,"B":4.0},
{"t":2006,"r":4.3,"g":4.0,"b":3.8,"R":4.0,"G":4.0,"B":4.0},
{"t":2007,"r":4.0,"g":4.5,"b":4.7,"R":4.0,"G":4.0,"B":4.0},
{"t":2008,"r":4.4,"g":3.8,"b":4.1,"R":4.0,"G":4.0,"B":4.0},
{"t":2009,"r":3.9,"g":4.3,"b":3.9,"R":4.0,"G":4.0,"B":4.0},
{"t":2010,"r":4.2,"g":3.7,"b":4.8,"R":4.0,"G":4.0,"B":4.0},
{"t":2011,"r":3.8,"g":4.4,"b":3.7,"R":4.05,"G":3.95,"B":4.1},
{"t":2012,"r":4.3,"g":3.9,"b":4.4,"R":4.1,"G":3.95,"B":4.2},
{"t":2013,"r":3.9,"g":4.3,"b":3.9,"R":4.2,"G":3.95,"B":4.3},
{"t":2014,"r":4.5,"g":3.8,"b":4.8,"R":4.3,"G":4.0,"B":4.5},
{"t":2015,"r":4.0,"g":4.4,"b":4.3,"R":4.35,"G":4.0,"B":4.6},
{"t":2016,"r":4.6,"g":3.9,"b":5.5,"R":4.4,"G":4.0,"B":4.7},
{"t":2017,"r":4.2,"g":4.3,"b":4.6,"R":4.5,"G":4.0,"B":4.8},
{"t":2018,"r":4.8,"g":3.8,"b":5.6,"R":4.55,"G":4.0,"B":4.9},
{"t":2019,"r":4.4,"g":4.5,"b":4.4,"R":4.6,"G":4.0,"B":5.0},
{"t":2020,"r":5.0,"g":3.7,"b":5.4,"R":4.65,"G":4.0,"B":5.1},
{"t":2021,"r":4.5,"g":4.6,"b":4.8,"R":4.7,"G":4.05,"B":5.25},
{"t":2022,"r":5.1,"g":4.0,"b":5.9,"R":4.75,"G":4.05,"B":5.4},
{"t":2023,"r":4.6,"g":4.5,"b":5.2,"R":4.8,"G":4.1,"B":5.55},
{"t":2024,"r":5.0,"g":3.9,"b":6.2,"R":4.85,"G":4.1,"B":5.7},
{"t":2025,"r":4.5,"g":4.6,"b":5.6,"R":4.85,"G":4.1,"B":5.8},
{"t":2026,"r":5.0,"g":4.0,"b":6.4,"R":4.8,"G":4.1,"B":5.85},
{"t":2027,"r":4.4,"g":4.5,"b":5.7,"R":4.75,"G":4.1,"B":5.9},
{"t":2028,"r":4.9,"g":3.7,"b":6.5,"R":4.7,"G":4.1,"B":6.0},
{"t":2029,"r":4.5,"g":4.3,"b":5.9,"R":4.7,"G":4.1,"B":6.2},
{"t":2030,"r":5.0,"g":3.9,"b":6.6,"R":4.7,"G":4.1,"B":6.3},
{"t":2031,"r":4.4,"g":4.6,"b":6.2,"R":4.7,"G":4.15,"B":6.4},
{"t":2032,"r":4.9,"g":4.0,"b":7.2,"R":4.7,"G":4.2,"B":6.45},
{"t":2033,"r":4.5,"g":4.4,"b":5.9,"R":4.7,"G":4.25,"B":6.5},
{"t":2034,"r":5.7,"g":3.2,"b":6.8,"R":4.75,"G":4.3,"B":6.55},
{"t":2035,"r":4.5,"g":4.5,"b":6.3,"R":4.75,"G":4.3,"B":6.6},
{"t":2036,"r":5.0,"g":4.0,"b":7.0,"R":4.8,"G":4.25,"B":6.65},
{"t":2037,"r":4.6,"g":4.7,"b":6.2,"R":4.85,"G":4.2,"B":6.7},
{"t":2038,"r":5.3,"g":4.1,"b":7.4,"R":4.9,"G":4.15,"B":6.9},
{"t":2039,"r":4.6,"g":4.6,"b":6.6,"R":4.9,"G":4.1,"B":7.0},
{"t":2040,"r":5.8,"g":3.9,"b":7.5,"R":4.9,"G":4.1,"B":7.1},
{"t":2041,"r":4.7,"g":4.5,"b":6.5,"R":4.9,"G":4.15,"B":7.2},
{"t":2042,"r":5.3,"g":4.1,"b":7.8,"R":4.9,"G":4.2,"B":7.3},
{"t":2043,"r":4.5,"g":4.6,"b":6.0,"R":4.95,"G":4.25,"B":7.4},
{"t":2044,"r":5.2,"g":4.2,"b":8.2,"R":4.95,"G":4.3,"B":7.5},
{"t":2045,"r":4.8,"g":4.7,"b":7.2,"R":4.9,"G":4.35,"B":7.6},
{"t":2046,"r":5.1,"g":4.0,"b":8.0,"R":4.85,"G":4.4,"B":7.65},
{"t":2047,"r":4.5,"g":4.8,"b":7.4,"R":4.8,"G":4.45,"B":7.7},
{"t":2048,"r":4.9,"g":4.3,"b":8.2,"R":4.75,"G":4.5,"B":7.7},
{"t":2049,"r":4.4,"g":5.0,"b":6.4,"R":4.7,"G":4.5,"B":7.7},
{"t":2050,"r":5.0,"g":4.4,"b":8.0,"R":4.7,"G":4.55,"B":7.75},
{"t":2051,"r":4.3,"g":4.8,"b":7.5,"R":4.65,"G":4.55,"B":7.8},
{"t":2052,"r":4.8,"g":4.1,"b":8.6,"R":4.6,"G":4.55,"B":7.9},
{"t":2053,"r":4.2,"g":4.8,"b":7.7,"R":4.5,"G":4.5,"B":8.0},
{"t":2054,"r":4.6,"g":4.2,"b":8.5,"R":4.45,"G":4.5,"B":8.05},
{"t":2055,"r":4.1,"g":5.1,"b":7.9,"R":4.4,"G":4.5,"B":8.1},
{"t":2056,"r":4.7,"g":4.2,"b":8.7,"R":4.35,"G":4.45,"B":8.2},
{"t":2057,"r":3.9,"g":4.8,"b":8.0,"R":4.3,"G":4.4,"B":8.25},
{"t":2058,"r":4.4,"g":4.0,"b":9.1,"R":4.2,"G":4.35,"B":8.3},
{"t":2059,"r":3.8,"g":4.7,"b":8.3,"R":4.1,"G":4.3,"B":8.5},
{"t":2060,"r":4.3,"g":4.1,"b":9.4,"R":4.0,"G":4.3,"B":8.8},
{"t":2061,"r":3.7,"g":4.6,"b":8.6,"R":3.95,"G":4.25,"B":9.0},
{"t":2062,"r":4.1,"g":3.9,"b":10.2,"R":3.9,"G":4.2,"B":9.0},
{"t":2063,"r":3.6,"g":4.4,"b":9.0,"R":3.8,"G":4.2,"B":9.0},
{"t":2064,"r":4.0,"g":3.9,"b":8.2,"R":3.75,"G":4.2,"B":9.05},
{"t":2065,"r":3.4,"g":4.5,"b":9.6,"R":3.7,"G":4.15,"B":9.1},
{"t":2066,"r":3.9,"g":3.8,"b":10.2,"R":3.65,"G":4.1,"B":9.1},
{"t":2067,"r":3.3,"g":4.3,"b":9.0,"R":3.6,"G":4.1,"B":9.1},
{"t":2068,"r":3.8,"g":3.9,"b":7.6,"R":3.55,"G":4.1,"B":9.1},
{"t":2069,"r":3.2,"g":4.4,"b":8.8,"R":3.5,"G":4.1,"B":null},
{"t":2070,"r":3.7,"g":3.8,"b":10.2,"R":3.5,"G":4.1,"B":null},
{"t":2071,"r":3.1,"g":4.2,"b":9.3,"R":3.45,"G":4.05,"B":null},
{"t":2072,"r":3.6,"g":3.7,"b":8.4,"R":3.4,"G":4.0,"B":null},
{"t":2073,"r":3.0,"g":4.2,"b":7.9,"R":3.35,"G":3.95,"B":null},
{"t":2074,"r":3.5,"g":3.6,"b":null,"R":3.3,"G":3.9,"B":null},
{"t":2075,"r":2.9,"g":4.1,"b":9.7,"R":3.25,"G":3.9,"B":null},
{"t":2076,"r":3.4,"g":3.5,"b":8.8,"R":3.15,"G":3.85,"B":null},
{"t":2077,"r":2.6,"g":4.0,"b":7.9,"R":3.05,"G":3.8,"B":null},
{"t":2078,"r":3.2,"g":3.4,"b":10.3,"R":2.95,"G":3.75,"B":null},
{"t":2079,"r":2.3,"g":3.9,"b":10.5,"R":2.9,"G":3.7,"B":null},
{"t":2080,"r":3.1,"g":3.3,"b":9.7,"R":2.85,"G":3.65,"B":9.25},
{"t":2081,"r":1.9,"g":3.8,"b":10.0,"R":2.8,"G":3.6,"B":9.3},
{"t":2082,"r":2.8,"g":3.2,"b":9.3,"R":2.75,"G":3.55,"B":9.35},
{"t":2083,"r":2.3,"g":3.7,"b":8.6,"R":2.7,"G":3.5,"B":9.4},
{"t":2084,"r":3.0,"g":3.1,"b":9.6,"R":2.65,"G":3.45,"B":9.4},
{"t":2085,"r":2.4,"g":3.6,"b":9.3,"R":2.6,"G":3.4,"B":9.4},
{"t":2086,"r":2.9,"g":3.0,"b":9.0,"R":2.6,"G":3.35,"B":9.35},
{"t":2087,"r":2.2,"g":3.5,"b":8.6,"R":2.6,"G":3.3,"B":9.3},
{"t":2088,"r":2.8,"g":2.9,"b":9.6,"R":2.6,"G":3.25,"B":9.3},
{"t":2089,"r":2.3,"g":3.4,"b":9.8,"R":2.6,"G":3.15,"B":9.35},
{"t":2090,"r":2.8,"g":2.8,"b":9.7,"R":2.6,"G":3.1,"B":9.3},
{"t":2091,"r":2.2,"g":4.1,"b":10.2,"R":2.6,"G":3.0,"B":9.3},
{"t":2092,"r":2.7,"g":2.7,"b":9.0,"R":2.65,"G":2.95,"B":9.35},
{"t":2093,"r":2.3,"g":3.1,"b":8.2,"R":2.65,"G":2.9,"B":9.4},
{"t":2094,"r":2.6,"g":2.5,"b":9.5,"R":2.7,"G":2.85,"B":9.4},
{"t":2095,"r":2.1,"g":3.0,"b":10.4,"R":2.7,"G":2.8,"B":9.4},
{"t":2096,"r":2.6,"g":2.6,"b":9.1},{"t":2097,"r":3.4,"g":3.4,"b":9.9},{"t":2098,"r":3.2,"g":2.6,"b":9.5},{"t":2099,"r":2.9,"g":2.7,"b":9.4},{"t":2100,"r":2.5,"g":2.4,"b":9.3}
]
},
"vconcat": [
{
 "width": 528, "height": 308,
 "title": {"text": "Total column ozone [DU] 20S−20N"},
 "data": {"name": "pa"},
 "layer": [
  {"data": {"values": [{}]}, "mark": {"type": "rule", "color": "black", "strokeWidth": 1.2, "strokeDash": [5, 3]},
   "encoding": {"y": {"datum": 0, "type": "quantitative", "scale": {"domain": [-15, 15], "nice": false, "zero": false},
     "axis": {"values": [-15,-10,-5,0,5,10,15], "tickCount": 20, "title": null, "domain": false, "grid": true, "gridColor": "#a8a8a8", "gridDash": [1.5, 6], "gridWidth": 1, "tickColor": "black", "tickWidth": 1.5, "tickSize": 5, "labelPadding": 1, "minExtent": 57, "maxExtent": 57}}}},
  {"mark": {"type": "line", "color": "#ff4343", "strokeWidth": 1.3, "invalid": "break-paths-show-domains"},
   "encoding": {"x": {"field": "t", "type": "quantitative", "scale": {"domain": [1960, 2100], "nice": false, "zero": false},
     "axis": {"values": [1960,1962,1964,1966,1968,1970,1972,1974,1976,1978,1980,1982,1984,1986,1988,1990,1992,1994,1996,1998,2000,2002,2004,2006,2008,2010,2012,2014,2016,2018,2020,2022,2024,2026,2028,2030,2032,2034,2036,2038,2040,2042,2044,2046,2048,2050,2052,2054,2056,2058,2060,2062,2064,2066,2068,2070,2072,2074,2076,2078,2080,2082,2084,2086,2088,2090,2092,2094,2096,2098,2100], "tickCount": 200, "labels": false, "title": null, "domain": false, "grid": true, "gridColor": "black", "gridDash": [1.5, 11], "gridWidth": 1.3, "gridOpacity": {"condition": {"test": "datum.value % 10 === 0", "value": 0.9}, "value": 0}, "tickColor": "black", "tickWidth": 1.5, "tickSize": {"condition": {"test": "datum.value % 10 === 0", "value": 8}, "value": -4}, "minExtent": 8, "maxExtent": 8}},
    "y": {"field": "r", "type": "quantitative"}}},
  {"mark": {"type": "line", "color": "#1ccc1c", "strokeWidth": 1.3, "invalid": "break-paths-show-domains"}, "encoding": {"x": {"field": "t", "type": "quantitative"}, "y": {"field": "g", "type": "quantitative"}}},
  {"mark": {"type": "line", "color": "#2b45ff", "strokeWidth": 1.3, "invalid": "break-paths-show-domains"}, "encoding": {"x": {"field": "t", "type": "quantitative"}, "y": {"field": "b", "type": "quantitative"}}},
  {"mark": {"type": "line", "color": "#ff4343", "strokeWidth": 4.5, "invalid": "break-paths-show-domains"}, "encoding": {"x": {"field": "t", "type": "quantitative"}, "y": {"field": "R", "type": "quantitative"}}},
  {"mark": {"type": "line", "color": "#1ccc1c", "strokeWidth": 4.5, "invalid": "break-paths-show-domains"}, "encoding": {"x": {"field": "t", "type": "quantitative"}, "y": {"field": "G", "type": "quantitative"}}},
  {"mark": {"type": "line", "color": "#2b45ff", "strokeWidth": 4.5, "invalid": "break-paths-show-domains"}, "encoding": {"x": {"field": "t", "type": "quantitative"}, "y": {"field": "B", "type": "quantitative"}}},
  {"data": {"values": [{"lab": "(a)"}]}, "mark": {"type": "text", "font": "DejaVu Sans", "fontWeight": "bold", "fontSize": 25, "align": "left", "baseline": "middle", "color": "black"},
   "encoding": {"x": {"datum": 1962.5, "type": "quantitative"}, "y": {"datum": -12.5, "type": "quantitative"}, "text": {"field": "lab"}}}
 ]
},
{
 "width": 528, "height": 308,
 "title": {"text": "Partial column ozone [DU] < 10hPa"},
 "data": {"name": "pb"},
 "layer": [
  {"data": {"values": [{}]}, "mark": {"type": "rule", "color": "black", "strokeWidth": 1.2, "strokeDash": [5, 3]},
   "encoding": {"y": {"datum": 0, "type": "quantitative", "scale": {"domain": [-10, 10], "nice": false, "zero": false},
     "axis": {"values": [-10,-5,0,5,10], "tickCount": 20, "title": null, "domain": false, "grid": true, "gridColor": "#a8a8a8", "gridDash": [1.5, 6], "gridWidth": 1, "tickColor": "black", "tickWidth": 1.5, "tickSize": 5, "labelPadding": 1, "minExtent": 57, "maxExtent": 57}}}},
  {"mark": {"type": "line", "strokeWidth": 1.3, "invalid": "break-paths-show-domains"},
   "encoding": {"x": {"field": "t", "type": "quantitative", "scale": {"domain": [1960, 2100], "nice": false, "zero": false},
     "axis": {"values": [1960,1962,1964,1966,1968,1970,1972,1974,1976,1978,1980,1982,1984,1986,1988,1990,1992,1994,1996,1998,2000,2002,2004,2006,2008,2010,2012,2014,2016,2018,2020,2022,2024,2026,2028,2030,2032,2034,2036,2038,2040,2042,2044,2046,2048,2050,2052,2054,2056,2058,2060,2062,2064,2066,2068,2070,2072,2074,2076,2078,2080,2082,2084,2086,2088,2090,2092,2094,2096,2098,2100], "tickCount": 200, "labels": false, "title": null, "domain": false, "grid": true, "gridColor": "black", "gridDash": [1.5, 11], "gridWidth": 1.3, "gridOpacity": {"condition": {"test": "datum.value % 10 === 0", "value": 0.9}, "value": 0}, "tickColor": "black", "tickWidth": 1.5, "tickSize": {"condition": {"test": "datum.value % 10 === 0", "value": 8}, "value": -4}, "minExtent": 8, "maxExtent": 8}},
    "y": {"field": "r", "type": "quantitative"},
    "color": {"datum": "RCP4.5", "scale": {"domain": ["RCP4.5", "RCP6.0", "RCP8.5"], "range": ["#ff4343", "#1ccc1c", "#2b45ff"]},
      "legend": {"orient": "none", "legendX": 40, "legendY": 26, "title": null, "symbolType": "M-2,0H2", "symbolStrokeWidth": 3, "symbolSize": 625, "labelFont": "DejaVu Sans", "labelFontSize": 24, "labelColor": "black", "labelOffset": 25, "rowPadding": 1}}}},
  {"mark": {"type": "line", "strokeWidth": 1.3, "invalid": "break-paths-show-domains"}, "encoding": {"x": {"field": "t", "type": "quantitative"}, "y": {"field": "g", "type": "quantitative"}, "color": {"datum": "RCP6.0"}}},
  {"mark": {"type": "line", "strokeWidth": 1.3, "invalid": "break-paths-show-domains"}, "encoding": {"x": {"field": "t", "type": "quantitative"}, "y": {"field": "b", "type": "quantitative"}, "color": {"datum": "RCP8.5"}}},
  {"mark": {"type": "line", "color": "#ff4343", "strokeWidth": 4.5, "invalid": "break-paths-show-domains"}, "encoding": {"x": {"field": "t", "type": "quantitative"}, "y": {"field": "R", "type": "quantitative"}}},
  {"mark": {"type": "line", "color": "#1ccc1c", "strokeWidth": 4.5, "invalid": "break-paths-show-domains"}, "encoding": {"x": {"field": "t", "type": "quantitative"}, "y": {"field": "G", "type": "quantitative"}}},
  {"mark": {"type": "line", "color": "#2b45ff", "strokeWidth": 4.5, "invalid": "break-paths-show-domains"}, "encoding": {"x": {"field": "t", "type": "quantitative"}, "y": {"field": "B", "type": "quantitative"}}},
  {"data": {"values": [{"lab": "(b)"}]}, "mark": {"type": "text", "font": "DejaVu Sans", "fontWeight": "bold", "fontSize": 25, "align": "left", "baseline": "middle", "color": "black"},
   "encoding": {"x": {"datum": 1962.5, "type": "quantitative"}, "y": {"datum": -8.3, "type": "quantitative"}, "text": {"field": "lab"}}}
 ]
},
{
 "width": 528, "height": 308,
 "title": {"text": "Partial column ozone [DU] 100−10hPa"},
 "data": {"name": "pc"},
 "layer": [
  {"data": {"values": [{}]}, "mark": {"type": "rule", "color": "black", "strokeWidth": 1.2, "strokeDash": [5, 3]},
   "encoding": {"y": {"datum": 0, "type": "quantitative", "scale": {"domain": [-25, 5], "nice": false, "zero": false},
     "axis": {"values": [-25,-20,-15,-10,-5,0,5], "tickCount": 20, "title": null, "domain": false, "grid": true, "gridColor": "#a8a8a8", "gridDash": [1.5, 6], "gridWidth": 1, "tickColor": "black", "tickWidth": 1.5, "tickSize": 5, "labelPadding": 1, "minExtent": 57, "maxExtent": 57}}}},
  {"mark": {"type": "line", "color": "#ff4343", "strokeWidth": 1.3, "invalid": "break-paths-show-domains"},
   "encoding": {"x": {"field": "t", "type": "quantitative", "scale": {"domain": [1960, 2100], "nice": false, "zero": false},
     "axis": {"values": [1960,1962,1964,1966,1968,1970,1972,1974,1976,1978,1980,1982,1984,1986,1988,1990,1992,1994,1996,1998,2000,2002,2004,2006,2008,2010,2012,2014,2016,2018,2020,2022,2024,2026,2028,2030,2032,2034,2036,2038,2040,2042,2044,2046,2048,2050,2052,2054,2056,2058,2060,2062,2064,2066,2068,2070,2072,2074,2076,2078,2080,2082,2084,2086,2088,2090,2092,2094,2096,2098,2100], "tickCount": 200, "labels": false, "title": null, "domain": false, "grid": true, "gridColor": "black", "gridDash": [1.5, 11], "gridWidth": 1.3, "gridOpacity": {"condition": {"test": "datum.value % 10 === 0", "value": 0.9}, "value": 0}, "tickColor": "black", "tickWidth": 1.5, "tickSize": {"condition": {"test": "datum.value % 10 === 0", "value": 8}, "value": -4}, "minExtent": 8, "maxExtent": 8}},
    "y": {"field": "r", "type": "quantitative"}}},
  {"mark": {"type": "line", "color": "#1ccc1c", "strokeWidth": 1.3, "invalid": "break-paths-show-domains"}, "encoding": {"x": {"field": "t", "type": "quantitative"}, "y": {"field": "g", "type": "quantitative"}}},
  {"mark": {"type": "line", "color": "#2b45ff", "strokeWidth": 1.3, "invalid": "break-paths-show-domains"}, "encoding": {"x": {"field": "t", "type": "quantitative"}, "y": {"field": "b", "type": "quantitative"}}},
  {"mark": {"type": "line", "color": "#ff4343", "strokeWidth": 4.5, "invalid": "break-paths-show-domains"}, "encoding": {"x": {"field": "t", "type": "quantitative"}, "y": {"field": "R", "type": "quantitative"}}},
  {"mark": {"type": "line", "color": "#1ccc1c", "strokeWidth": 4.5, "invalid": "break-paths-show-domains"}, "encoding": {"x": {"field": "t", "type": "quantitative"}, "y": {"field": "G", "type": "quantitative"}}},
  {"mark": {"type": "line", "color": "#2b45ff", "strokeWidth": 4.5, "invalid": "break-paths-show-domains"}, "encoding": {"x": {"field": "t", "type": "quantitative"}, "y": {"field": "B", "type": "quantitative"}}},
  {"data": {"values": [{"lab": "(c)"}]}, "mark": {"type": "text", "font": "DejaVu Sans", "fontWeight": "bold", "fontSize": 25, "align": "left", "baseline": "middle", "color": "black"},
   "encoding": {"x": {"datum": 1962.5, "type": "quantitative"}, "y": {"datum": -22.5, "type": "quantitative"}, "text": {"field": "lab"}}}
 ]
},
{
 "width": 528, "height": 308,
 "title": {"text": "Partial column ozone [DU] 1000−100hPa"},
 "data": {"name": "pd"},
 "layer": [
  {"data": {"values": [{}]}, "mark": {"type": "rule", "color": "black", "strokeWidth": 1.2, "strokeDash": [5, 3]},
   "encoding": {"y": {"datum": 0, "type": "quantitative", "scale": {"domain": [-5, 15], "nice": false, "zero": false},
     "axis": {"values": [-5,0,5,10,15], "tickCount": 20, "title": null, "domain": false, "grid": true, "gridColor": "#a8a8a8", "gridDash": [1.5, 6], "gridWidth": 1, "tickColor": "black", "tickWidth": 1.5, "tickSize": 5, "labelPadding": 1, "minExtent": 57, "maxExtent": 57}}}},
  {"mark": {"type": "line", "color": "#ff4343", "strokeWidth": 1.3, "invalid": "break-paths-show-domains"},
   "encoding": {"x": {"field": "t", "type": "quantitative", "scale": {"domain": [1960, 2100], "nice": false, "zero": false},
     "axis": {"values": [1960,1962,1964,1966,1968,1970,1972,1974,1976,1978,1980,1982,1984,1986,1988,1990,1992,1994,1996,1998,2000,2002,2004,2006,2008,2010,2012,2014,2016,2018,2020,2022,2024,2026,2028,2030,2032,2034,2036,2038,2040,2042,2044,2046,2048,2050,2052,2054,2056,2058,2060,2062,2064,2066,2068,2070,2072,2074,2076,2078,2080,2082,2084,2086,2088,2090,2092,2094,2096,2098,2100], "tickCount": 200, "format": "d", "labelExpr": "datum.value % 20 === 0 ? datum.label : ''", "labelOverlap": false, "labelFlush": false, "labelPadding": 11, "title": "Time", "titlePadding": -1, "domain": false, "grid": true, "gridColor": "black", "gridDash": [1.5, 11], "gridWidth": 1.3, "gridOpacity": {"condition": {"test": "datum.value % 10 === 0", "value": 0.9}, "value": 0}, "tickColor": "black", "tickWidth": 1.5, "tickSize": {"condition": {"test": "datum.value % 10 === 0", "value": 8}, "value": -4}}},
    "y": {"field": "r", "type": "quantitative"}}},
  {"mark": {"type": "line", "color": "#1ccc1c", "strokeWidth": 1.3, "invalid": "break-paths-show-domains"}, "encoding": {"x": {"field": "t", "type": "quantitative"}, "y": {"field": "g", "type": "quantitative"}}},
  {"mark": {"type": "line", "color": "#2b45ff", "strokeWidth": 1.3, "invalid": "break-paths-show-domains"}, "encoding": {"x": {"field": "t", "type": "quantitative"}, "y": {"field": "b", "type": "quantitative"}}},
  {"mark": {"type": "line", "color": "#ff4343", "strokeWidth": 4.5, "invalid": "break-paths-show-domains"}, "encoding": {"x": {"field": "t", "type": "quantitative"}, "y": {"field": "R", "type": "quantitative"}}},
  {"mark": {"type": "line", "color": "#1ccc1c", "strokeWidth": 4.5, "invalid": "break-paths-show-domains"}, "encoding": {"x": {"field": "t", "type": "quantitative"}, "y": {"field": "G", "type": "quantitative"}}},
  {"mark": {"type": "line", "color": "#2b45ff", "strokeWidth": 4.5, "invalid": "break-paths-show-domains"}, "encoding": {"x": {"field": "t", "type": "quantitative"}, "y": {"field": "B", "type": "quantitative"}}},
  {"data": {"values": [{"lab": "(d)"}]}, "mark": {"type": "text", "font": "DejaVu Sans", "fontWeight": "bold", "fontSize": 25, "align": "left", "baseline": "middle", "color": "black"},
   "encoding": {"x": {"datum": 1962.5, "type": "quantitative"}, "y": {"datum": -3.3, "type": "quantitative"}, "text": {"field": "lab"}}}
 ]
}
]
}
